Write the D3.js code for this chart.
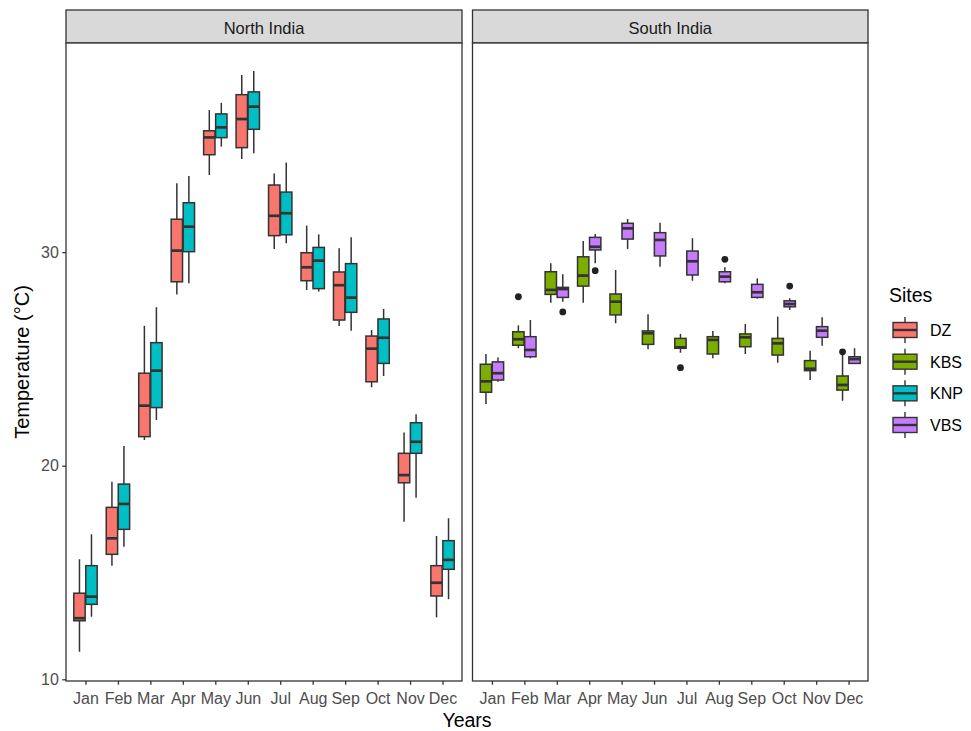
<!DOCTYPE html>
<html>
<head>
<meta charset="utf-8">
<script src="https://cdn.jsdelivr.net/npm/d3@7"></script>
<style>
  html, body { margin: 0; padding: 0; background: #fff; }
  svg { display: block; font-family: "Liberation Sans", Arial, sans-serif; }
</style>
</head>
<body>
<svg id="chart" width="971" height="731"></svg>
<script>
// ---------- DATA ----------
const months = ["Jan","Feb","Mar","Apr","May","Jun","Jul","Aug","Sep","Oct","Nov","Dec"];
const sites = ["DZ","KBS","KNP","VBS"];
const siteColors = ["#F8766D","#7CAE00","#00BFC4","#C77CFF"];
const panels = ["North India","South India"];
const yTicks = [10, 20, 30];

// each entry: [lower whisker, Q1, median, Q3, upper whisker]
const dzStats = [
  [11.29,12.74,12.86,14.03,15.62],
  [15.32,15.85,16.60,18.05,19.25],
  [21.20,21.36,22.81,24.33,26.55],
  [28.02,28.61,30.07,31.54,33.22],
  [33.61,34.56,35.37,35.68,36.65],
  [34.36,34.89,36.23,37.37,38.29],
  [30.14,30.77,31.70,33.14,33.68],
  [28.23,28.66,29.29,29.97,31.24],
  [26.54,26.82,28.45,29.07,30.18],
  [23.67,23.93,25.48,26.07,26.35],
  [17.38,19.20,19.56,20.58,21.56],
  [12.90,13.90,14.52,15.32,16.71]
];
const knpStats = [
  [12.93,13.51,13.87,15.32,16.79],
  [16.21,17.02,18.21,19.14,20.92],
  [22.14,22.72,24.45,25.76,27.42],
  [28.54,30.02,31.19,32.31,33.56],
  [34.94,35.36,35.84,36.47,36.99],
  [34.63,35.75,36.81,37.50,38.48],
  [30.41,30.81,31.82,32.81,34.20],
  [28.15,28.29,29.60,30.22,30.83],
  [26.32,27.18,27.87,29.46,30.69],
  [24.20,24.79,25.99,26.87,27.34],
  [18.50,20.58,21.12,22.01,22.41],
  [13.75,15.15,15.59,16.49,17.54]
];
const kbsStats = [
  [22.89,23.44,23.95,24.75,25.23],
  [25.50,25.64,25.92,26.27,26.57],
  [27.63,28.02,28.23,29.08,29.48],
  [27.63,28.41,28.90,29.78,30.52],
  [26.67,27.06,27.68,28.04,29.16],
  [25.45,25.68,26.20,26.31,27.09],
  [25.29,25.50,25.54,25.96,26.17],
  [25.03,25.23,25.89,26.04,26.31],
  [25.23,25.57,26.01,26.17,26.63],
  [24.82,25.18,25.73,25.96,26.98],
  [24.01,24.45,24.54,24.92,25.38],
  [23.04,23.54,23.78,24.20,25.20]
];
const vbsStats = [
  [23.93,24.01,24.33,24.86,25.06],
  [25.03,25.10,25.42,26.04,26.82],
  [27.68,27.88,28.27,28.35,28.96],
  [29.48,30.10,30.25,30.69,30.85],
  [30.15,30.61,31.11,31.35,31.55],
  [29.32,29.82,30.57,30.91,31.38],
  [28.66,28.93,29.57,30.05,30.65],
  [28.54,28.61,28.85,29.08,29.29],
  [27.82,27.88,28.12,28.49,28.77],
  [27.29,27.44,27.57,27.72,27.84],
  [25.62,26.01,26.32,26.51,26.95],
  [24.79,24.79,24.99,25.10,25.50]
];
// outliers: [site, month, value]
const outliers = [
  ["KBS","Feb",27.91],
  ["VBS","Mar",27.20],
  ["VBS","Apr",29.13],
  ["KBS","Jul",24.59],
  ["VBS","Aug",29.66],
  ["VBS","Oct",28.41],
  ["KBS","Dec",25.33]
];

const statsBySite = { DZ: dzStats, KBS: kbsStats, KNP: knpStats, VBS: vbsStats };
const panelSites = { "North India": ["DZ","KNP"], "South India": ["KBS","VBS"] };
const colorScale = d3.scaleOrdinal().domain(sites).range(siteColors);

// ---------- LAYOUT ----------
const svg = d3.select("#chart");
const panelTop = 43, panelBottom = 681;
const stripTop = 10;
const panelX = { "North India": [66, 462], "South India": [472.5, 868] };
const ink = "#333333";
const fontFam = "'Liberation Sans', Arial, sans-serif";

const y = d3.scaleLinear().domain([9.92, 39.79]).range([panelBottom, panelTop]);

panels.forEach((pname, pi) => {
  const [x0, x1] = panelX[pname];
  const step = (x1 - x0) / 12.2;
  const cx = m => x0 + (0.6 + months.indexOf(m)) * step;

  const g = svg.append("g");

  // strip
  g.append("rect").attr("x", x0).attr("y", stripTop).attr("width", x1 - x0).attr("height", panelTop - stripTop)
    .attr("fill", "#d9d9d9").attr("stroke", ink).attr("stroke-width", 1.3);
  g.append("text").attr("x", (x0 + x1) / 2).attr("y", 33.5).attr("text-anchor", "middle")
    .attr("font-size", 16.5).attr("fill", "#1a1a1a").text(pname);

  // panel
  g.append("rect").attr("x", x0).attr("y", panelTop).attr("width", x1 - x0).attr("height", panelBottom - panelTop)
    .attr("fill", "#fff").attr("stroke", ink).attr("stroke-width", 1.3);

  // x axis
  const xAxisScale = d3.scalePoint().domain(months).range([cx("Jan"), cx("Dec")]);
  const xAxis = g.append("g").attr("transform", `translate(0,${panelBottom})`)
    .call(d3.axisBottom(xAxisScale).tickSize(3.7).tickPadding(7.5));
  xAxis.select(".domain").remove();
  xAxis.selectAll(".tick line").attr("stroke", ink).attr("stroke-width", 1.3);
  xAxis.selectAll(".tick text").attr("font-size", 16).attr("fill", "#4d4d4d").attr("font-family", fontFam);

  if (pi === 0) {
    const yAxis = g.append("g").attr("transform", `translate(${x0},0)`)
      .call(d3.axisLeft(y).tickValues(yTicks).tickSize(3.7).tickPadding(3.5));
    yAxis.select(".domain").remove();
    yAxis.selectAll(".tick line").attr("stroke", ink).attr("stroke-width", 1.3);
    yAxis.selectAll(".tick text").attr("font-size", 16).attr("fill", "#4d4d4d").attr("font-family", fontFam);
  }

  const dodge = step * 0.185;
  const bw = step * 0.35;
  panelSites[pname].forEach((site, si) => {
    const off = si === 0 ? -dodge : dodge;
    const data = statsBySite[site].map((s, i) => ({ month: months[i], s }));
    const bg = g.append("g");
    bg.selectAll("line.wh").data(data).join("line").attr("class", "wh")
      .attr("x1", d => cx(d.month) + off).attr("x2", d => cx(d.month) + off)
      .attr("y1", d => y(d.s[0])).attr("y2", d => y(d.s[4]))
      .attr("stroke", ink).attr("stroke-width", 1.5);
    bg.selectAll("rect.box").data(data).join("rect").attr("class", "box")
      .attr("x", d => cx(d.month) + off - bw / 2).attr("width", bw)
      .attr("y", d => y(d.s[3])).attr("height", d => Math.max(0.5, y(d.s[1]) - y(d.s[3])))
      .attr("fill", colorScale(site)).attr("stroke", ink).attr("stroke-width", 1.5);
    bg.selectAll("line.med").data(data).join("line").attr("class", "med")
      .attr("x1", d => cx(d.month) + off - bw / 2).attr("x2", d => cx(d.month) + off + bw / 2)
      .attr("y1", d => y(d.s[2])).attr("y2", d => y(d.s[2]))
      .attr("stroke", ink).attr("stroke-width", 2.7);
    const outs = outliers.filter(o => o[0] === site);
    bg.selectAll("circle.out").data(outs).join("circle").attr("class", "out")
      .attr("cx", d => cx(d[1]) + off).attr("cy", d => y(d[2])).attr("r", 3.4)
      .attr("fill", "#222");
  });
});

// axis titles
svg.append("text").attr("x", 467).attr("y", 727).attr("text-anchor", "middle")
  .attr("font-size", 19.5).attr("fill", "#000").text("Years");
svg.append("text").attr("transform", `translate(29,${(panelTop + panelBottom) / 2}) rotate(-90)`)
  .attr("text-anchor", "middle").attr("font-size", 20).attr("fill", "#000").text("Temperature (°C)");

// legend
const lg = svg.append("g");
lg.append("text").attr("x", 889).attr("y", 302).attr("font-size", 19.5).attr("fill", "#000").text("Sites");
const keyY = d3.scalePoint().domain(sites).range([330, 425]);
sites.forEach(site => {
  const cy = keyY(site);
  lg.append("line").attr("x1", 905).attr("x2", 905).attr("y1", cy - 13).attr("y2", cy + 13)
    .attr("stroke", ink).attr("stroke-width", 1.4);
  lg.append("rect").attr("x", 893).attr("y", cy - 7.5).attr("width", 24).attr("height", 15)
    .attr("fill", colorScale(site)).attr("stroke", ink).attr("stroke-width", 1.4);
  lg.append("line").attr("x1", 893).attr("x2", 917).attr("y1", cy).attr("y2", cy)
    .attr("stroke", ink).attr("stroke-width", 2.4);
  lg.append("text").attr("x", 930).attr("y", cy + 6).attr("font-size", 16).attr("fill", "#000").text(site);
});
</script>
</body>
</html>
